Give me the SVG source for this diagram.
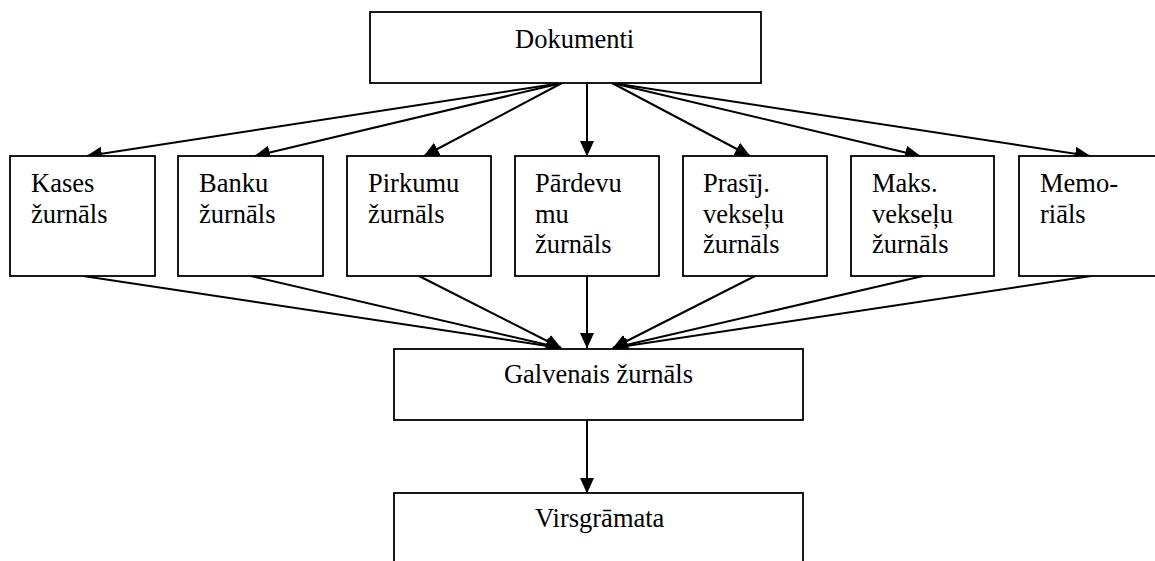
<svg xmlns="http://www.w3.org/2000/svg" width="1155" height="561" viewBox="0 0 1155 561">
<style>
.box{fill:#fff;stroke:#000;stroke-width:1.8}
.t{font-family:"Liberation Serif","Times New Roman",serif;font-size:26.5px;fill:#000}
.c{fill:none;stroke:#000;stroke-width:2;marker-end:url(#ah)}
</style>
<defs>
<marker id="ah" markerUnits="userSpaceOnUse" markerWidth="16" markerHeight="15" refX="15" refY="7.5" orient="auto" viewBox="0 0 16 15">
<path d="M0,0.5 L15.5,7.5 L0,14.5 Z" fill="#000"/>
</marker>
</defs>
<rect width="1155" height="561" fill="#fff"/>
<g id="connectors">
<line class="c" x1="562" y1="83" x2="87" y2="156"/>
<line class="c" x1="562" y1="83" x2="255" y2="156"/>
<line class="c" x1="562" y1="83" x2="424" y2="156"/>
<line class="c" x1="587" y1="83" x2="587" y2="156"/>
<line class="c" x1="612" y1="83" x2="750" y2="156"/>
<line class="c" x1="612" y1="83" x2="920" y2="156"/>
<line class="c" x1="612" y1="83" x2="1090" y2="156"/>
<line class="c" x1="83" y1="276" x2="561" y2="348"/>
<line class="c" x1="251" y1="276" x2="561" y2="348"/>
<line class="c" x1="419" y1="276" x2="561" y2="348"/>
<line class="c" x1="587" y1="276" x2="587" y2="348"/>
<line class="c" x1="755" y1="276" x2="613" y2="348"/>
<line class="c" x1="923" y1="276" x2="613" y2="348"/>
<line class="c" x1="1091" y1="276" x2="613" y2="348"/>
<line class="c" x1="587" y1="420" x2="587" y2="493"/>
</g>
<g id="dokumenti"><rect class="box" x="370" y="12" width="391" height="71"/><text class="t" x="515" y="48">Dokumenti</text></g>
<g id="kases"><rect class="box" x="10" y="156" width="145" height="120"/><text class="t" x="31" y="192">Kases</text><text class="t" x="31" y="222.5">žurnāls</text></g>
<g id="banku"><rect class="box" x="178" y="156" width="145" height="120"/><text class="t" x="199" y="192">Banku</text><text class="t" x="199" y="222.5">žurnāls</text></g>
<g id="pirkumu"><rect class="box" x="347" y="156" width="144" height="120"/><text class="t" x="368" y="192">Pirkumu</text><text class="t" x="368" y="222.5">žurnāls</text></g>
<g id="pardevumu"><rect class="box" x="515" y="156" width="144" height="120"/><text class="t" x="535" y="192">Pārdevu</text><text class="t" x="535" y="222.5">mu</text><text class="t" x="535" y="253">žurnāls</text></g>
<g id="prasij"><rect class="box" x="683" y="156" width="144" height="120"/><text class="t" x="703" y="192">Prasīj.</text><text class="t" x="703" y="222.5">vekseļu</text><text class="t" x="703" y="253">žurnāls</text></g>
<g id="maks"><rect class="box" x="851" y="156" width="143" height="120"/><text class="t" x="872" y="192">Maks.</text><text class="t" x="872" y="222.5">vekseļu</text><text class="t" x="872" y="253">žurnāls</text></g>
<g id="memorials"><rect class="box" x="1019" y="156" width="145" height="120"/><text class="t" x="1040" y="192">Memo-</text><text class="t" x="1040" y="222.5">riāls</text></g>
<g id="galvenais"><rect class="box" x="394" y="349" width="409" height="71"/><text class="t" x="598.5" y="383" text-anchor="middle">Galvenais žurnāls</text></g>
<g id="virsgramata"><rect class="box" x="394" y="493" width="409" height="80"/><text class="t" x="535" y="527">Virsgrāmata</text></g>
</svg>
